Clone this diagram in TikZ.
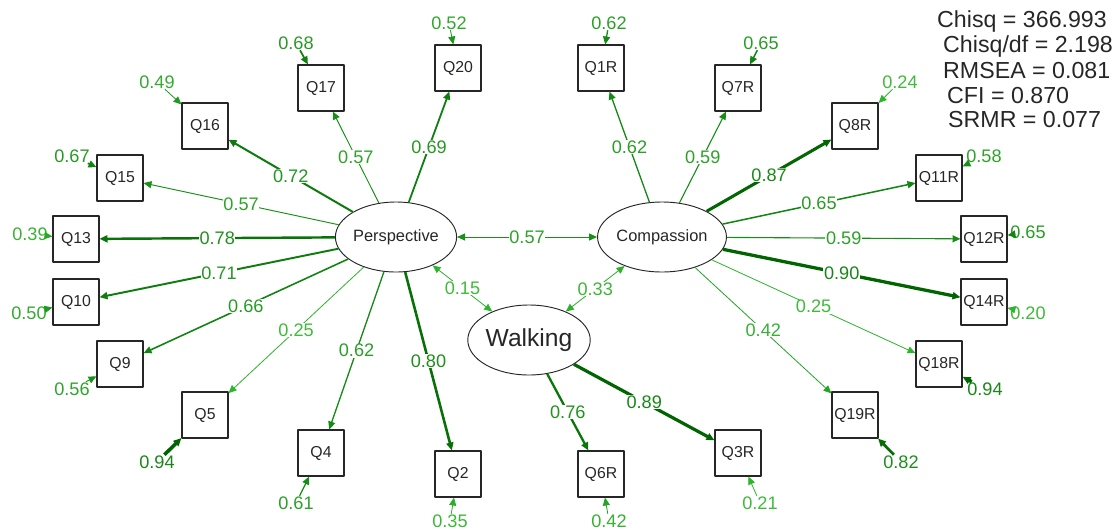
\documentclass[tikz,border=0pt]{standalone}
\usepackage{fontspec}
\setmainfont{Liberation Sans}
\usetikzlibrary{arrows.meta,shapes.geometric}
\definecolor{ink}{HTML}{262626}
\definecolor{deepg}{HTML}{006400}
\definecolor{paleg}{HTML}{2DB52D}
\definecolor{lblg}{HTML}{40BA3A}

\begin{document}
\begin{tikzpicture}[
  x=0.03cm,y=-0.03cm,line join=round,
  tone/.code={%
    \pgfmathtruncatemacro\lshade{min(100,max(0,(#1-0.3)*170))}%
    \pgfmathtruncatemacro\tshade{0.6*\lshade}%
    \colorlet{edgecol}{deepg!\lshade!paleg}%
    \colorlet{textcol}{deepg!\tshade!lblg}},
  load/.style={tone=#1,draw=edgecol,
    line width={max(0.7,0.7+6*(#1-0.55))*1pt},
    -{Triangle[length=6.8pt,width=6pt]}},
  cov/.style={load=#1,
    {Triangle[length=6.8pt,width=6pt]}-{Triangle[length=6.8pt,width=6pt]}},
  latent/.style={draw=ink,ellipse,line width=0.8pt,minimum width=3.45cm,
    minimum height=2.1cm,inner sep=0pt,text=ink,font=\fontsize{14}{14}\selectfont},
  item/.style={draw=ink,line width=0.9pt,minimum size=1.38cm,inner sep=0pt,
    text=ink,font=\fontsize{13.5}{13.5}\selectfont},
  wt/.style={fill=white,inner sep=0.5pt,text=textcol,font=\fontsize{15.5}{15.5}\selectfont},
  err/.style={tone=#1,inner sep=0.5pt,text=textcol,font=\fontsize{15.5}{15.5}\selectfont},
  stat/.style={anchor=base west,inner sep=0pt,text=ink,font=\fontsize{19.8}{19.8}\selectfont}
]
\useasboundingbox (0,0) rectangle (1118,530);

% Latent factors
\node[latent] (per) at (396,237) {Perspective};
\node[latent] (com) at (662,237) {Compassion};
\node[latent,font=\fontsize{21}{21}\selectfont] (walk) at (529,340) {Walking};

% Indicators of Perspective, clockwise from upper left
\node[item] (q16) at (205,126) {Q16};
\node[item] (q17) at (321,88) {Q17};
\node[item] (q20) at (458,68) {Q20};
\node[item] (q15) at (120,178) {Q15};
\node[item] (q13) at (76,239) {Q13};
\node[item] (q10) at (76,302) {Q10};
\node[item] (q9) at (120,364) {Q9};
\node[item] (q5) at (205,415) {Q5};
\node[item] (q4) at (321,453) {Q4};
\node[item] (q2) at (458,474) {Q2};

% Indicators of Compassion and Walking
\node[item] (q1r) at (601,68) {Q1R};
\node[item] (q7r) at (738,88) {Q7R};
\node[item] (q8r) at (855,126) {Q8R};
\node[item] (q11r) at (939,178) {Q11R};
\node[item] (q12r) at (984,239) {Q12R};
\node[item] (q14r) at (984,302) {Q14R};
\node[item] (q18r) at (939,364) {Q18R};
\node[item] (q19r) at (855,415) {Q19R};
\node[item] (q6r) at (601,474) {Q6R};
\node[item] (q3r) at (738,453) {Q3R};

% Standardised loadings, label halfway along each arrow
\foreach \s/\v in {16/0.72,17/0.57,20/0.69,15/0.57,13/0.78,10/0.71,9/0.66,5/0.25,4/0.62,2/0.80}
  \draw[load=\v] (per) -- node[wt] {\v} (q\s);
\foreach \s/\v in {1r/0.62,7r/0.59,8r/0.87,11r/0.65,12r/0.59,14r/0.90,18r/0.25,19r/0.42}
  \draw[load=\v] (com) -- node[wt] {\v} (q\s);
\draw[load=0.76] (walk) -- node[wt] {0.76} (q6r);
\draw[load=0.89] (walk) -- node[wt] {0.89} (q3r);

% Factor correlations
\draw[cov=0.57] (per) -- node[wt] {0.57} (com);
\draw[cov=0.15] (per) -- node[wt] {0.15} (walk);
\draw[cov=0.33] (com) -- node[wt] {0.33} (walk);

% Residual variances point in from outside
\foreach \s/\v/\x/\y in {16/0.49/157/82,17/0.68/296/43,20/0.52/449/23,15/0.67/72/156,
    13/0.39/30/234,10/0.50/29/313,9/0.56/72/389,5/0.94/157/462,4/0.61/296/503,
    2/0.35/450/521,1r/0.62/609/23,7r/0.65/761/43,8r/0.24/900/82,11r/0.58/984/156,
    12r/0.65/1028/232,14r/0.20/1028/313,18r/0.94/985/389,19r/0.82/901/462,
    6r/0.42/609/521,3r/0.21/760/503}{
  \node[err=\v] (e\s) at (\x,\y) {\v};
  \draw[load=\v] (e\s) -- (q\s);
}

% Fit indices
\node[stat] (chisq) at (937,27) {Chisq = 366.993};
\node[stat] (chidf) at (943,52) {Chisq/df = 2.198};
\node[stat] (rmsea) at (943,78) {RMSEA = 0.081};
\node[stat] (cfi) at (947,103) {CFI = 0.870};
\node[stat] (srmr) at (948,127) {SRMR = 0.077};

\end{tikzpicture}
\end{document}
